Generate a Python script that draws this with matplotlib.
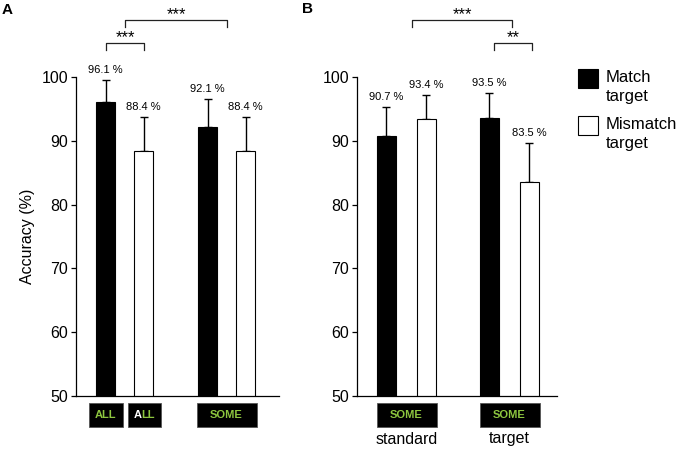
import matplotlib
matplotlib.use("Agg")
import matplotlib.pyplot as plt
from matplotlib.patches import Rectangle

plt.rcParams['font.family'] = ['Liberation Sans', 'DejaVu Sans']

# ---- data ----
conditions = ["Match target", "Mismatch target"]
a_values = [96.1, 88.4, 92.1, 88.4]
a_errors = [3.4, 5.3, 4.4, 5.3]
a_labels = ["96.1 %", "88.4 %", "92.1 %", "88.4 %"]
b_values = [90.7, 93.4, 93.5, 83.5]
b_errors = [4.6, 3.8, 4.0, 6.1]
b_labels = ["90.7 %", "93.4 %", "93.5 %", "83.5 %"]
b_group_names = ["standard", "target"]
yticks = [50, 60, 70, 80, 90, 100]
a_sig = [("***", 0, 1), ("***", "g0", "g1")]
b_sig = [("***", "g0", "g1"), ("**", 2, 3)]

GREEN = '#8DC63F'
W, H = 680, 449
fig = plt.figure(figsize=(W / 100, H / 100), dpi=100)

def px_axes(x0, x1, ytop, ybot):
    return fig.add_axes([x0 / W, 1 - ybot / H, (x1 - x0) / W, (ybot - ytop) / H])

axA = px_axes(76, 279, 77, 396)
axB = px_axes(357, 557, 77, 396)

def setup(ax, xmax, ylabel=None):
    ax.set_xlim(0, xmax)
    ax.set_ylim(50, 100)
    ax.set_yticks(yticks)
    ax.set_yticklabels([str(t) for t in yticks], fontsize=11.5)
    ax.set_xticks([])
    for s in ['top', 'right']:
        ax.spines[s].set_visible(False)
    for s in ['left', 'bottom']:
        ax.spines[s].set_linewidth(0.9)
    ax.tick_params(axis='y', direction='out', length=3.5, width=0.9, pad=2)
    if ylabel:
        ax.set_ylabel(ylabel, fontsize=11.5, labelpad=5)

def draw_bars(ax, pos, vals, errs, labels):
    colors = ['black', 'white', 'black', 'white']
    ax.bar(pos, vals, width=19, color=colors, edgecolor='black', linewidth=0.8, zorder=2)
    ax.errorbar(pos, vals, yerr=[[0] * len(vals), errs], fmt='none', ecolor='black',
                elinewidth=1.0, capsize=2.6, capthick=1.0, zorder=1)
    for x, v, e, lab in zip(pos, vals, errs, labels):
        ax.annotate(lab, (x, v + e), xytext=(0, 3.5), textcoords='offset points',
                    ha='center', va='bottom', fontsize=8, annotation_clip=False)

def bracket(ax, x1, x2, ytop, yleg, ystar, text):
    ax.plot([x1, x1, x2, x2], [yleg, ytop, ytop, yleg], color='#222222', lw=0.9,
            clip_on=False)
    ax.text((x1 + x2) / 2, ystar, text, ha='center', va='center', fontsize=12,
            clip_on=False)

def ypx(p):
    return 100 + (77 - p) / 6.38

# positions
a_gc = [48.5, 150.5]
a_pos = [a_gc[0] - 19, a_gc[0] + 19, a_gc[1] - 19, a_gc[1] + 19]
b_gc = [49, 152]
b_pos = [b_gc[0] - 20, b_gc[0] + 20, b_gc[1] - 20, b_gc[1] + 20]

setup(axA, 203, "Accuracy (%)")
setup(axB, 200)
draw_bars(axA, a_pos, a_values, a_errors, a_labels)
draw_bars(axB, b_pos, b_values, b_errors, b_labels)

levels = {'inner': (ypx(43), ypx(50), ypx(38)), 'outer': (ypx(20), ypx(27), ypx(15))}

def resolve(ref, pos, gc):
    return gc[int(ref[1])] if isinstance(ref, str) else pos[ref]

for txt, r1, r2 in a_sig:
    lvl = 'outer' if isinstance(r1, str) else 'inner'
    x1 = resolve(r1, a_pos, a_gc) + 0.5
    x2 = resolve(r2, a_pos, a_gc) + 0.5
    bracket(axA, x1, x2, *levels[lvl], txt)
shift_b = {'outer': (6, 3), 'inner': (5, 3)}
for txt, r1, r2 in b_sig:
    lvl = 'outer' if isinstance(r1, str) else 'inner'
    x1 = resolve(r1, b_pos, b_gc) + shift_b[lvl][0]
    x2 = resolve(r2, b_pos, b_gc) + shift_b[lvl][1]
    bracket(axB, x1, x2, *levels[lvl], txt)

# label boxes below axes
def box(ax, xc, w):
    yb, yt = ypx(427), ypx(403)
    ax.add_patch(Rectangle((xc - w / 2, yb), w, yt - yb, facecolor='black',
                           edgecolor='#555555', linewidth=0.6, clip_on=False))
    return (yb + yt) / 2

BOXFONT = dict(fontsize=8, fontweight='bold', va='center', clip_on=False)

yc = box(axA, a_pos[0], 34)
axA.text(a_pos[0], yc, "ALL", color=GREEN, ha='center', **BOXFONT)

# second "ALL": white "A" + green "LL", laid out side by side
xc2 = a_pos[1] + 1
yc = box(axA, xc2, 33)
tmp_full = axA.text(xc2, yc, "ALL", ha='center', **BOXFONT)
tmp_a = axA.text(xc2, yc, "A", ha='left', **BOXFONT)
fig.canvas.draw()
bb_full = tmp_full.get_window_extent()
bb_a = tmp_a.get_window_extent()
tmp_full.remove()
tmp_a.remove()
inv = axA.transData.inverted()
x_start = inv.transform((bb_full.x0, 0))[0]
x_split = inv.transform((bb_full.x0 + bb_a.width, 0))[0]
axA.text(x_start, yc, "A", color='white', ha='left', **BOXFONT)
axA.text(x_split, yc, "LL", color=GREEN, ha='left', **BOXFONT)

yc = box(axA, a_gc[1], 60)
axA.text(a_gc[1], yc, "SOME", color=GREEN, ha='center', **BOXFONT)

for gc, name in zip(b_gc, b_group_names):
    yc = box(axB, gc + 0.5, 60)
    axB.text(gc + 0.5, yc, "SOME", color=GREEN, ha='center', **BOXFONT)
    axB.text(gc + 0.5, ypx(439), name, fontsize=11.5, ha='center', va='center',
             clip_on=False)

# legend
def fig_rect(x0, y0, x1, y1, fc):
    fig.add_artist(Rectangle((x0 / W, 1 - y1 / H), (x1 - x0) / W, (y1 - y0) / H,
                             facecolor=fc, edgecolor='black', linewidth=0.8,
                             transform=fig.transFigure))

leg_colors = ['black', 'white']
leg_tops = [69, 116]
for cond, fc, top in zip(conditions, leg_colors, leg_tops):
    fig_rect(578, top, 598, top + 19, fc)
    fig.text(606 / W, 1 - (top + 18) / H, cond.replace(" ", "\n"), fontsize=12,
             ha='left', va='center', linespacing=1.3)

# panel labels
fig.text(2 / W, 1 - 10 / H, "A", fontsize=11, fontweight='bold', ha='left', va='center')
fig.text(302 / W, 1 - 9 / H, "B", fontsize=11, fontweight='bold', ha='left', va='center')

fig.savefig("out.png", dpi=100)
